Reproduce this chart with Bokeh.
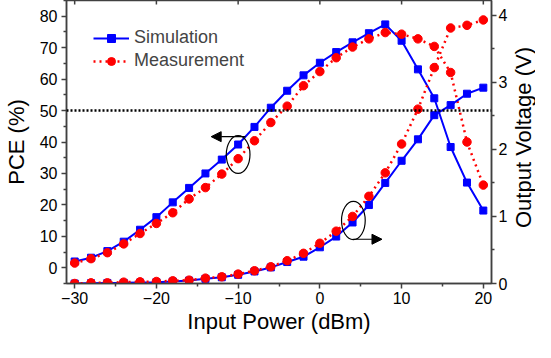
import math
from bokeh.plotting import figure
from bokeh.models import (Range1d, LinearAxis, FixedTicker, Span, Arrow, NormalHead,
                          Legend, LegendItem, Label)
from bokeh.embed import file_html
from bokeh.resources import INLINE

# ---------------- data ----------------
input_power = [-30, -28, -26, -24, -22, -20, -18, -16, -14, -12, -10, -8, -6, -4, -2,
               0, 2, 4, 6, 8, 10, 12, 14, 16, 18, 20]
sim_pce = [2.0, 3.2, 5.3, 8.3, 12.1, 16.1, 20.8, 25.4, 30.0, 34.4, 39.2, 44.8, 50.9, 56.3, 61.2,
           65.2, 68.6, 71.7, 74.6, 77.4, 72.2, 63.1, 53.9, 38.4, 27.1, 18.2]
meas_pce = [1.5, 2.9, 4.8, 7.6, 10.9, 14.1, 17.5, 21.9, 25.5, 29.8, 34.7, 40.4, 46.2, 51.4, 57.9,
            62.4, 66.8, 70.2, 72.8, 74.8, 74.3, 72.8, 70.4, 62.1, 40.0, 26.3]
sim_v = [0.0, 0.005, 0.008, 0.01, 0.015, 0.02, 0.03, 0.044, 0.07, 0.093, 0.13, 0.18, 0.24, 0.32, 0.40,
         0.54, 0.70, 0.91, 1.17, 1.50, 1.83, 2.15, 2.51, 2.66, 2.83, 2.92]
meas_v = [0.0, 0.01, 0.01, 0.02, 0.025, 0.03, 0.04, 0.05, 0.08, 0.10, 0.14, 0.19, 0.25, 0.34, 0.45,
          0.60, 0.78, 1.00, 1.30, 1.65, 2.08, 2.60, 3.22, 3.81, 3.85, 3.93]

x_ticks = [-30, -20, -10, 0, 10, 20]
x_minor = [-25, -15, -5, 5, 15]
pce_ticks = [0, 10, 20, 30, 40, 50, 60, 70, 80]
pce_minor = [-5, 5, 15, 25, 35, 45, 55, 65, 75, 85]
v_ticks = [0, 1, 2, 3, 4]
v_minor = [0.5, 1.5, 2.5, 3.5]

pce_threshold = 50
# annotation marks (ellipse: x, y, w, h ; arrow: x0, x1, y)
ell_pce = (-10, 36, 2.9, 12)
arr_pce = (-9.1, -13.3, 41.7)
ell_v = (4.1, 0.94, 2.9, 0.57)
arr_v = (4.06, 7.6, 0.66)

FONT = "Liberation Sans"
BLUE = "#0000ff"
RED = "#ff0000"
AX = "#404040"

X0, X1 = -31, 21
Y0, Y1 = -5, 85
W, H = 535, 336
BL, BR, BT, BB = 61, 44, 0, 44
FW, FH = W - BL - BR, H - BT - BB

p = figure(width=W, height=H,
           x_range=Range1d(X0, X1), y_range=Range1d(Y0, Y1),
           output_backend="svg", toolbar_location=None,
           min_border_left=BL, min_border_right=BR, min_border_top=BT, min_border_bottom=BB)
p.extra_y_ranges = {"v": Range1d(0, 4.22)}
p.xgrid.visible = False
p.ygrid.visible = False
p.outline_line_color = AX
p.outline_line_width = 1.5
p.background_fill_color = "white"
p.border_fill_color = "white"


def style(ax):
    ax.axis_line_color = AX
    ax.axis_line_width = 1.5
    ax.major_tick_line_color = AX
    ax.minor_tick_line_color = AX
    ax.major_tick_line_width = 1.5
    ax.minor_tick_line_width = 1.5
    ax.major_tick_in = 0
    ax.major_tick_out = 5
    ax.minor_tick_in = 0
    ax.minor_tick_out = 3
    ax.major_label_text_font = FONT
    ax.major_label_text_font_size = "16px"
    ax.major_label_text_color = "black"
    ax.axis_label_text_font = FONT
    ax.axis_label_text_font_size = "22px"
    ax.axis_label_text_font_style = "normal"
    ax.axis_label_text_color = "black"


xa = p.xaxis[0]
xa.ticker = FixedTicker(ticks=x_ticks, minor_ticks=x_minor)
xa.axis_label = "Input Power (dBm)"
style(xa)
xa.major_label_standoff = 3
xa.axis_label_standoff = 2

ya = p.yaxis[0]
ya.ticker = FixedTicker(ticks=pce_ticks, minor_ticks=pce_minor)
ya.axis_label = "PCE (%)"
style(ya)
ya.major_label_standoff = 4
ya.axis_label_standoff = 8

ra = LinearAxis(y_range_name="v", ticker=FixedTicker(ticks=v_ticks, minor_ticks=v_minor))
style(ra)
ra.major_label_standoff = 2
p.add_layout(ra, "right")

# right axis title, reading bottom-to-top like the reference (own side panel)
p.add_layout(Label(x=13, y=FH / 2, x_units="screen", y_units="screen",
                   text="Output Voltage (V)", angle=90, angle_units="deg",
                   text_align="center", text_baseline="middle",
                   text_font=FONT, text_font_size="22px", text_color="black"), "right")

# top-side tick marks (inward), derived from the x tick list
tick_len = 4 * (Y1 - Y0) / FH
p.segment(x0=x_ticks, y0=[Y1] * len(x_ticks), x1=x_ticks, y1=[Y1 - tick_len] * len(x_ticks),
          line_color=AX, line_width=1.5)

# threshold line
p.add_layout(Span(location=pce_threshold, dimension="width", line_color="black",
                  line_width=2.4, line_dash="2 2"))

# curves
sl = p.line(input_power, sim_pce, line_color=BLUE, line_width=2)
ss = p.scatter(input_power, sim_pce, marker="square", size=7, fill_color=BLUE, line_color=BLUE)
ml = p.line(input_power, meas_pce, line_color=RED, line_width=2.5, line_dash="2 4")
ms = p.scatter(input_power, meas_pce, marker="circle", size=8.5, fill_color=RED, line_color=RED)

p.line(input_power, sim_v, line_color=BLUE, line_width=2, y_range_name="v")
p.scatter(input_power, sim_v, marker="square", size=7, fill_color=BLUE, line_color=BLUE,
          y_range_name="v")
p.line(input_power, meas_v, line_color=RED, line_width=2.5, line_dash="2 4", y_range_name="v")
p.scatter(input_power, meas_v, marker="circle", size=8.5, fill_color=RED, line_color=RED,
          y_range_name="v")

# annotations
p.ellipse(x=[ell_pce[0]], y=[ell_pce[1]], width=[ell_pce[2]], height=[ell_pce[3]],
          fill_color=None, line_color="black", line_width=1.2)
p.ellipse(x=[ell_v[0]], y=[ell_v[1]], width=[ell_v[2]], height=[ell_v[3]],
          fill_color=None, line_color="black", line_width=1.2, y_range_name="v")
p.add_layout(Arrow(end=NormalHead(size=10, fill_color="black", line_color="black"),
                   x_start=arr_pce[0], x_end=arr_pce[1], y_start=arr_pce[2], y_end=arr_pce[2],
                   line_color="black", line_width=1.2))
p.add_layout(Arrow(end=NormalHead(size=10, fill_color="black", line_color="black"),
                   x_start=arr_v[0], x_end=arr_v[1], y_start=arr_v[2], y_end=arr_v[2],
                   line_color="black", line_width=1.2, y_range_name="v"))

legend = Legend(items=[LegendItem(label="Simulation", renderers=[sl, ss]),
                       LegendItem(label="Measurement", renderers=[ml, ms])],
                location="top_left")
legend.border_line_color = None
legend.background_fill_alpha = 0
legend.label_text_font = FONT
legend.label_text_font_size = "18px"
legend.glyph_width = 36
legend.glyph_height = 20
legend.spacing = 2
legend.label_standoff = 5
legend.margin = 27
legend.padding = 3
p.add_layout(legend)

open("out.html", "w").write(file_html(p, INLINE))
